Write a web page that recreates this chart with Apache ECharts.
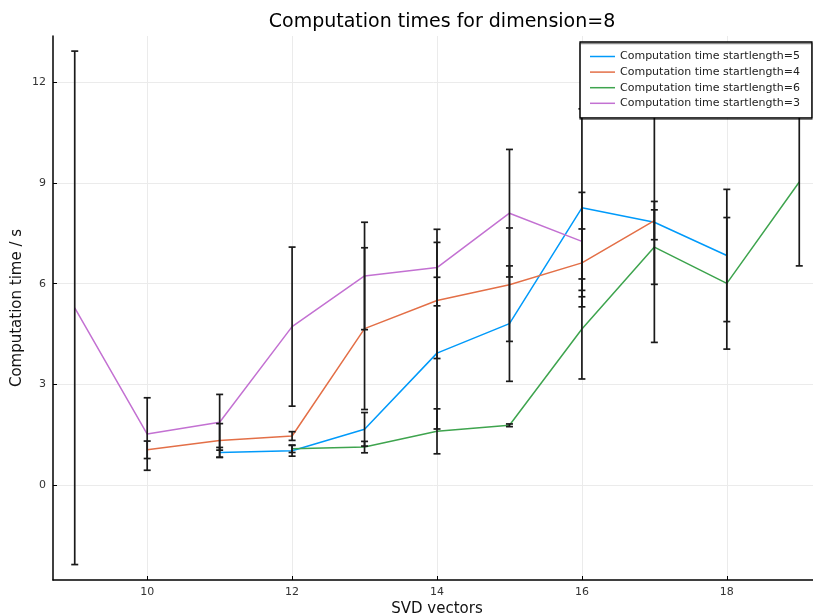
<!DOCTYPE html>
<html>
<head>
<meta charset="utf-8">
<script src="https://cdn.jsdelivr.net/npm/echarts@6/dist/echarts.min.js"></script>
<style>
  html, body { margin: 0; padding: 0; background: #fff; }
  #chart { width: 813px; height: 616px; }
</style>
</head>
<body>
<div id="chart"></div>
<script>
// SVD vector counts per run
var xs5 = [11, 12, 13, 14, 15, 16, 17, 18];
var xs4 = [10, 11, 12, 13, 14, 15, 16, 17];
var xs6 = [12, 13, 14, 15, 16, 17, 18, 19];
var xs3 = [9, 10, 11, 12, 13, 14, 15, 16];

// mean computation time (s)
var mean5 = [0.97, 1.02, 1.66, 3.93, 4.81, 8.26, 7.83, 6.84];
var mean4 = [1.05, 1.33, 1.46, 4.66, 5.50, 5.97, 6.62, 7.88];
var mean6 = [1.08, 1.13, 1.60, 1.78, 4.65, 7.09, 6.01, 9.03];
var mean3 = [5.28, 1.52, 1.87, 4.72, 6.23, 6.48, 8.10, 7.26];

// error (+/-)
var err5 = [0.15, 0.16, 0.50, 2.26, 1.72, 2.95, 3.58, 1.97];
var err4 = [0.26, 0.50, 0.13, 2.41, 1.73, 1.69, 1.01, 0.57];
var err6 = [0.11, 0.17, 0.67, 0.04, 1.49, 1.11, 1.96, 2.50];
var err3 = [7.65, 1.08, 0.83, 2.37, 1.60, 1.14, 1.90, 1.46];

var names = ['Computation time startlength=5', 'Computation time startlength=4',
             'Computation time startlength=6', 'Computation time startlength=3'];
var colors = ['#009AFA', '#E36F47', '#3EA44E', '#C371D2'];
var xTicks = [10, 12, 14, 16, 18];
var yTicks = [0, 3, 6, 9, 12];

var chart = echarts.init(document.getElementById('chart'));

function pairs(xs, ys) {
    return xs.map(function (x, i) { return [x, ys[i]]; });
}
function triples(xs, ys, es) {
    return xs.map(function (x, i) { return [x, ys[i], es[i]]; });
}

// error bar drawing, caps are a fixed pixel width
function renderErr(params, api) {
    var x = api.value(0), y = api.value(1), e = api.value(2);
    var hi = api.coord([x, y + e]);
    var lo = api.coord([x, y - e]);
    var c = 3.5;
    var st = { stroke: '#1a1a1a', lineWidth: 1.7 };
    return {
        type: 'group',
        children: [
            { type: 'line', shape: { x1: hi[0], y1: hi[1], x2: lo[0], y2: lo[1] }, style: st },
            { type: 'line', shape: { x1: hi[0] - c, y1: hi[1], x2: hi[0] + c, y2: hi[1] }, style: st },
            { type: 'line', shape: { x1: lo[0] - c, y1: lo[1], x2: lo[0] + c, y2: lo[1] }, style: st }
        ]
    };
}

var allX = [xs5, xs4, xs6, xs3];
var allMean = [mean5, mean4, mean6, mean3];
var allErr = [err5, err4, err6, err3];

var series = [];
for (var i = 0; i < 4; i++) {
    series.push({
        name: 'err' + i,
        type: 'custom',
        renderItem: renderErr,
        data: triples(allX[i], allMean[i], allErr[i]),
        encode: { x: 0, y: 1 },
        z: 3
    });
}
for (var j = 0; j < 4; j++) {
    series.push({
        name: names[j],
        type: 'line',
        data: pairs(allX[j], allMean[j]),
        showSymbol: false,
        symbol: 'none',
        lineStyle: { width: 1.5, color: colors[j] },
        itemStyle: { color: colors[j] },
        z: 2
    });
}

var option = {
    animation: false,
    backgroundColor: '#fff',
    textStyle: { fontFamily: 'DejaVu Sans' },
    title: {
        text: 'Computation times for dimension=8',
        left: 437, textAlign: 'center', top: 8,
        textStyle: { fontSize: 19, fontWeight: 'normal', color: '#000', fontFamily: 'DejaVu Sans' }
    },
    legend: {
        data: names,
        orient: 'vertical',
        left: 580, top: 42,
        padding: [8, 12, 8, 10],
        icon: 'rect',
        itemWidth: 25, itemHeight: 1.5, itemGap: 2.6,
        backgroundColor: '#fff',
        borderColor: '#000', borderWidth: 1.3,
        shadowColor: 'rgba(0,0,0,0.45)', shadowOffsetY: 1.5, shadowBlur: 0,
        textStyle: { fontSize: 11, lineHeight: 13, color: '#222', fontFamily: 'DejaVu Sans' }
    },
    grid: { left: 53, right: -8, top: 36, bottom: 36, outerBoundsMode: 'none' },
    xAxis: {
        type: 'value',
        min: 8.7, max: 19.3,
        name: 'SVD vectors', nameLocation: 'middle', nameGap: 22, nameMoveOverlap: false,
        nameTextStyle: { fontSize: 15, color: '#111', fontFamily: 'DejaVu Sans' },
        axisLine: { onZero: false, lineStyle: { color: '#000', width: 1.5 } },
        axisTick: { inside: true, length: 4, lineStyle: { color: '#000' }, customValues: xTicks },
        axisLabel: { fontSize: 11, color: '#333', margin: 7, customValues: xTicks },
        splitLine: { show: true, lineStyle: { color: '#ebebeb', width: 1 } }
    },
    yAxis: {
        type: 'value',
        min: -2.83, max: 13.38,
        name: 'Computation time / s', nameLocation: 'middle', nameGap: 28, nameMoveOverlap: false,
        nameTextStyle: { fontSize: 15, color: '#111', fontFamily: 'DejaVu Sans' },
        axisLine: { show: true, onZero: false, lineStyle: { color: '#000', width: 1.5 } },
        axisTick: { show: true, inside: true, length: 4, lineStyle: { color: '#000' }, customValues: yTicks },
        axisLabel: { fontSize: 11, color: '#333', margin: 7, customValues: yTicks },
        splitLine: { show: true, lineStyle: { color: '#ebebeb', width: 1 } }
    },
    series: series
};

chart.setOption(option);
</script>
</body>
</html>
